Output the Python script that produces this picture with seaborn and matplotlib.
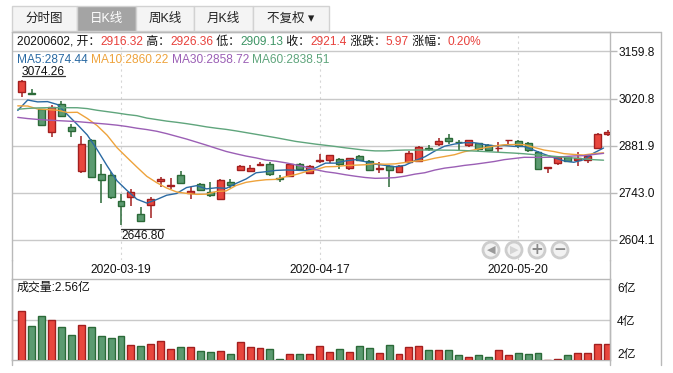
import numpy as np
import pandas as pd
import matplotlib
matplotlib.use("Agg")
import matplotlib.pyplot as plt
import seaborn as sns
from matplotlib.patches import Rectangle, Circle
from matplotlib.lines import Line2D
from matplotlib.transforms import IdentityTransform

# ---- data (SSE composite, daily) ----
dates = ["03-05", "03-06", "03-09", "03-10", "03-11", "03-12", "03-13", "03-16", "03-17", "03-18",
         "03-19", "03-20", "03-23", "03-24", "03-25", "03-26", "03-27", "03-30", "03-31", "04-01",
         "04-02", "04-03", "04-07", "04-08", "04-09", "04-10", "04-13", "04-14", "04-15", "04-16",
         "04-17", "04-20", "04-21", "04-22", "04-23", "04-24", "04-27", "04-28", "04-29", "04-30",
         "05-06", "05-07", "05-08", "05-11", "05-12", "05-13", "05-14", "05-15", "05-18", "05-19",
         "05-20", "05-21", "05-22", "05-25", "05-26", "05-27", "05-28", "05-29", "06-01", "06-02"]
dates = ["2020-" + d for d in dates]

opens = [3039.0, 3037.0, 2988.9, 2921.8, 3004.5, 2935.7, 2806.5, 2898.0, 2796.8, 2793.9,
         2718.8, 2728.8, 2678.6, 2705.2, 2776.1, 2762.0, 2793.8, 2741.5, 2767.2, 2744.5,
         2723.0, 2773.2, 2808.6, 2805.7, 2824.5, 2826.3, 2784.5, 2792.7, 2826.3, 2800.6,
         2837.0, 2840.0, 2843.0, 2814.5, 2850.9, 2836.1, 2813.4, 2821.3, 2802.7, 2833.1,
         2835.2, 2875.0, 2885.4, 2903.2, 2893.5, 2882.5, 2888.4, 2882.0, 2874.5, 2898.0,
         2896.0, 2890.0, 2863.6, 2816.3, 2829.3, 2847.0, 2840.1, 2838.0, 2873.6, 2916.32]
highs = [3074.26, 3050.0, 2990.0, 3002.5, 3012.5, 2945.4, 2910.0, 2900.0, 2826.0, 2804.5,
         2737.7, 2753.4, 2701.0, 2728.8, 2788.8, 2787.0, 2806.5, 2758.0, 2771.0, 2775.0,
         2782.0, 2782.0, 2824.0, 2825.0, 2834.0, 2833.0, 2795.0, 2828.0, 2830.0, 2823.0,
         2856.5, 2853.0, 2845.0, 2845.0, 2854.0, 2838.0, 2833.0, 2824.0, 2825.0, 2866.5,
         2879.5, 2883.5, 2903.0, 2915.9, 2898.0, 2899.0, 2890.0, 2886.0, 2891.0, 2899.5,
         2897.0, 2892.0, 2866.5, 2819.0, 2847.5, 2849.0, 2861.8, 2856.0, 2918.0, 2926.36]
lows = [3026.0, 3031.0, 2941.6, 2906.0, 2965.0, 2906.0, 2799.7, 2785.0, 2713.0, 2725.0,
        2646.80, 2703.0, 2655.0, 2666.8, 2758.4, 2752.5, 2770.0, 2723.8, 2748.0, 2731.0,
        2721.0, 2757.0, 2806.0, 2803.0, 2820.0, 2792.0, 2774.0, 2791.0, 2808.0, 2797.0,
        2829.0, 2831.0, 2812.0, 2808.6, 2836.0, 2806.0, 2801.5, 2758.4, 2800.0, 2831.0,
        2832.0, 2866.5, 2881.5, 2885.4, 2869.6, 2876.5, 2866.0, 2866.0, 2862.7, 2886.0,
        2875.5, 2864.0, 2808.6, 2800.5, 2824.3, 2832.0, 2820.4, 2829.3, 2871.0, 2909.13]
closes = [3071.68, 3034.51, 2943.29, 2996.76, 2968.52, 2923.49, 2887.43, 2789.25, 2779.64, 2728.76,
          2702.13, 2745.62, 2660.17, 2722.44, 2781.59, 2764.91, 2772.20, 2747.21, 2750.30, 2734.52,
          2780.64, 2763.99, 2820.76, 2815.37, 2825.90, 2796.63, 2783.05, 2827.28, 2811.17, 2819.94,
          2838.49, 2852.55, 2827.01, 2843.98, 2838.50, 2808.53, 2815.49, 2810.02, 2822.44, 2860.08,
          2878.14, 2871.52, 2895.34, 2894.80, 2891.56, 2898.05, 2870.34, 2868.46, 2875.42, 2898.58,
          2883.74, 2867.92, 2813.77, 2817.97, 2846.55, 2836.80, 2846.22, 2852.35, 2915.43, 2921.40]
# volume in 亿
volumes = [4.53, 3.62, 4.22, 3.98, 3.56, 3.07, 3.68, 3.56, 3.01, 2.89,
           3.01, 2.47, 2.41, 2.53, 2.71, 2.22, 2.35, 2.35, 2.10, 2.04,
           2.10, 1.92, 2.65, 2.35, 2.28, 2.22, 1.62, 1.92, 1.92, 1.92,
           2.41, 2.04, 2.22, 2.06, 2.41, 2.28, 1.98, 2.47, 1.92, 2.35,
           2.41, 2.16, 2.16, 2.16, 1.86, 1.74, 1.86, 1.74, 2.16, 1.86,
           1.98, 1.94, 1.98, 1.60, 1.62, 1.86, 1.98, 1.98, 2.55, 2.56]

ma5 = [2985.50, 3016.34, 3010.81, 3011.58, 3002.95, 2973.31, 2943.90, 2913.09, 2869.67, 2821.71,
       2777.44, 2749.08, 2723.26, 2711.82, 2722.39, 2734.95, 2740.26, 2757.67, 2763.24, 2753.83,
       2756.97, 2755.33, 2770.04, 2783.06, 2801.33, 2804.53, 2808.34, 2809.65, 2808.81, 2807.61,
       2815.99, 2829.89, 2829.83, 2836.39, 2840.11, 2834.11, 2826.70, 2823.30, 2819.00, 2823.31,
       2837.23, 2848.44, 2865.50, 2879.98, 2886.27, 2890.25, 2890.02, 2884.64, 2880.77, 2882.17,
       2879.31, 2878.82, 2867.89, 2856.40, 2845.99, 2836.60, 2832.26, 2839.98, 2859.47, 2874.44]
ma10 = [2999.07, 2998.55, 2989.76, 2988.13, 2986.19, 2979.41, 2980.12, 2961.95, 2940.62, 2912.33,
        2875.38, 2846.49, 2818.18, 2790.75, 2772.05, 2756.19, 2744.67, 2740.47, 2737.53, 2738.11,
        2745.96, 2747.80, 2763.86, 2773.15, 2777.58, 2780.75, 2781.84, 2789.84, 2795.93, 2804.47,
        2810.26, 2819.11, 2819.74, 2822.60, 2823.86, 2825.05, 2828.29, 2826.57, 2827.70, 2831.71,
        2835.67, 2837.57, 2844.40, 2849.49, 2854.79, 2863.74, 2869.23, 2875.07, 2880.37, 2884.22,
        2884.78, 2884.42, 2876.26, 2868.58, 2864.08, 2857.96, 2855.54, 2853.93, 2857.93, 2860.22]
ma30 = [2965.0, 2961.5, 2959.0, 2957.0, 2955.5, 2954.0, 2952.5, 2950.0, 2947.5, 2945.0,
        2942.0, 2938.0, 2933.0, 2929.0, 2924.0, 2917.0, 2909.0, 2901.0, 2892.0, 2883.0,
        2873.47, 2864.28, 2857.26, 2850.67, 2845.27, 2838.78, 2835.54, 2830.75, 2824.70, 2818.31,
        2810.53, 2804.47, 2800.59, 2795.50, 2791.16, 2787.33, 2784.93, 2785.63, 2787.05, 2791.43,
        2797.30, 2801.49, 2809.33, 2815.08, 2818.74, 2823.18, 2826.45, 2830.50, 2834.67, 2840.13,
        2843.57, 2847.04, 2846.80, 2846.89, 2847.58, 2848.92, 2851.02, 2851.86, 2855.33, 2858.72]
ma60 = [2989.0, 2991.5, 2993.0, 2993.6, 2993.6, 2993.6, 2993.5, 2991.0, 2986.0, 2982.0,
        2978.0, 2973.5, 2970.0, 2963.0, 2958.5, 2954.0, 2950.5, 2946.5, 2942.0, 2937.0,
        2933.0, 2929.5, 2925.0, 2920.0, 2915.0, 2910.0, 2905.0, 2899.5, 2894.0, 2890.0,
        2886.0, 2882.5, 2879.0, 2875.0, 2871.5, 2868.0, 2866.0, 2866.0, 2867.5, 2868.5,
        2868.6, 2868.6, 2868.5, 2868.2, 2868.0, 2867.0, 2865.5, 2864.0, 2862.5, 2861.0,
        2859.5, 2857.5, 2855.0, 2852.5, 2850.0, 2847.5, 2845.0, 2842.5, 2840.0, 2838.51]

price_ticks = [3159.8, 3020.8, 2881.9, 2743.0, 2604.1]
vol_ticks = [2, 4, 6]
date_ticks = ["2020-03-19", "2020-04-17", "2020-05-20"]
tabs = ["分时图", "日K线", "周K线", "月K线", "不复权 ▾"]

df = pd.DataFrame({"date": dates, "open": opens, "high": highs, "low": lows,
                   "close": closes, "vol": volumes,
                   "MA5": ma5, "MA10": ma10, "MA30": ma30, "MA60": ma60})
df["x"] = np.arange(len(df))
df["up"] = df["close"] >= df["open"]

# ---- style ----
RED, RED_EDGE = "#e8463d", "#a21f1f"
GREEN, GREEN_EDGE = "#5b9a70", "#2b6a38"
TXT_RED, TXT_GREEN = "#e8413c", "#3f9566"
MA_COLORS = {"MA5": "#2a6aa3", "MA10": "#eea33c", "MA30": "#9b5fb5", "MA60": "#5fa57c"}
GRID = "#c9c9c9"
FRAME = "#b9b9b9"

sns.set_theme(style="white")
plt.rcParams["font.family"] = ["Liberation Sans", "Noto Sans CJK SC", "DejaVu Sans"]
FS = 8.6

W, H = 673, 373
fig = plt.figure(figsize=(W / 100, H / 100), dpi=100)
fig.patch.set_facecolor("white")


def fx(px):
    return px / W


def fy(py):
    return 1 - py / H


ax = fig.add_axes([fx(12), fy(260), 598 / W, 228 / H])
axv = fig.add_axes([fx(12), fy(360), 598 / W, 80.7 / H])
xlim = (-0.98, 59.25)

# ---- price panel ----
for _, r in df.iterrows():
    face, edge = (RED, RED_EDGE) if r["up"] else (GREEN, GREEN_EDGE)
    ax.vlines(r["x"], r["low"], r["high"], color=edge, lw=1.1, zorder=3)
    lo, hi = min(r["open"], r["close"]), max(r["open"], r["close"])
    ax.bar(r["x"], max(hi - lo, 0.6), bottom=lo, width=0.7, color=face,
           edgecolor=edge, lw=1.0, zorder=4)

for name, col in MA_COLORS.items():
    sns.lineplot(x=df["x"] - 0.4, y=df[name], ax=ax, color=col, lw=1.0,
                 legend=False, zorder=5)

ax.set_xlim(*xlim)
ax.set_ylim(2543.6, 3217.3)
ax.set_xlabel("")
ax.set_ylabel("")
ax.yaxis.tick_right()
ax.set_yticks(price_ticks)
ax.set_yticklabels([f"{v:.1f}" for v in price_ticks])
ax.tick_params(axis="y", right=True, length=5, width=1, color=FRAME, pad=1,
               labelsize=FS, labelcolor="#111111")
pos = [dates.index(d) for d in date_ticks]
ax.set_xticks(pos)
ax.set_xticklabels(date_ticks)
ax.tick_params(axis="x", bottom=True, length=0, pad=3, labelsize=FS, labelcolor="#111111")
ax.grid(axis="y", color=GRID, lw=1)
ax.grid(axis="x", color="#d6d6d6", lw=0.8, linestyle=(0, (2, 3)))
for s in ["left", "top", "right"]:
    ax.spines[s].set_color(FRAME)
    ax.spines[s].set_linewidth(1)
ax.spines["bottom"].set_visible(False)

# extremes labels
hi_i = int(np.argmax(highs))
lo_i = int(np.argmin(lows))
renderer = fig.canvas.get_renderer()
t_hi = ax.annotate(f"{highs[hi_i]:.2f}", xy=(hi_i, highs[hi_i]), xytext=(0, 5.5),
                   textcoords="offset pixels", ha="left", va="baseline", fontsize=FS,
                   color="#111111")
t_lo = ax.annotate(f"{lows[lo_i]:.2f}", xy=(lo_i, lows[lo_i]), xytext=(0, -5),
                   textcoords="offset pixels", ha="left", va="top", fontsize=FS,
                   color="#111111")
to_data = ax.transData.inverted()
for t, idx, val, off in [(t_hi, hi_i, highs[hi_i], 4), (t_lo, lo_i, lows[lo_i], -3.5)]:
    bb = t.get_window_extent(renderer)
    x_end = to_data.transform((bb.x1, 0))[0]
    y_line = to_data.transform((0, ax.transData.transform((0, val))[1] + off))[1]
    ax.plot([idx, x_end], [y_line, y_line], color="#333333", lw=0.9, zorder=6)

# ---- volume panel ----
axv.bar(df["x"], df["vol"], width=0.7,
        color=np.where(df["up"], RED, GREEN),
        edgecolor=np.where(df["up"], RED_EDGE, GREEN_EDGE), lw=1.0, zorder=3)
axv.set_xlim(*xlim)
axv.set_ylim(1.576, 6.467)
axv.axhline(4, color=GRID, lw=1, zorder=1)
axv.yaxis.tick_right()
axv.set_yticks(vol_ticks)
axv.set_yticklabels([f"{v}亿" for v in vol_ticks])
axv.tick_params(axis="y", right=True, length=0, pad=5, labelsize=FS, labelcolor="#111111")
axv.set_xticks([])
for s in axv.spines.values():
    s.set_color(FRAME)
    s.set_linewidth(1)
axv.text(0.008, 0.9, f"成交量:{volumes[-1]:.2f}亿", transform=axv.transAxes,
         ha="left", va="center", fontsize=FS, color="#111111")

# ---- outer frame ----
fig.add_artist(Line2D([fx(12), fx(661)], [fy(32), fy(32)], color=FRAME, lw=1))
fig.add_artist(Line2D([fx(661), fx(661)], [fy(32), fy(365)], color=FRAME, lw=1))
fig.add_artist(Line2D([fx(12), fx(12)], [fy(260), fy(365)], color=FRAME, lw=1))
fig.add_artist(Line2D([fx(610), fx(610)], [fy(260), fy(365)], color=FRAME, lw=1))


def text_runs(x_px, y_px, runs, size=FS):
    x = x_px
    for s, c in runs:
        t = fig.text(fx(x), fy(y_px), s, color=c, fontsize=size, ha="left", va="center")
        x += t.get_window_extent(renderer).width


# info line
last, prev = df.iloc[-1], df.iloc[-2]
chg = last["close"] - prev["close"]
pct = chg / prev["close"] * 100
text_runs(17, 42, [
    (last["date"].replace("-", "") + ", 开：", "#111111"), (f"{last['open']:.2f}", TXT_RED),
    (" 高：", "#111111"), (f"{last['high']:.2f}", TXT_RED),
    (" 低：", "#111111"), (f"{last['low']:.2f}", TXT_GREEN),
    (" 收：", "#111111"), (f"{last['close']:g}", TXT_RED),
    (" 涨跌：", "#111111"), (f"{chg:.2f}", TXT_RED),
    (" 涨幅：", "#111111"), (f"{pct:.2f}%", TXT_RED),
])
# MA legend
text_runs(17, 60, [(f"{k}:{df[k].iloc[-1]:.2f} ", c) for k, c in MA_COLORS.items()])

# ---- tabs ----
edges = [12, 77, 136, 194, 253, 329]
for i, name in enumerate(tabs):
    active = i == 1
    fig.add_artist(Rectangle((fx(edges[i]), fy(31)), (edges[i + 1] - edges[i]) / W, 25 / H,
                             facecolor="#a4a4a4" if active else "#f4f4f4",
                             edgecolor="#d2d2d2", lw=1))
    fig.text(fx((edges[i] + edges[i + 1]) / 2), fy(19), name, ha="center", va="center",
             fontsize=9, color="white" if active else "#222222")

# ---- navigation buttons ----
for cx, sym, col in [(491, "◀", "#9a9a9a"), (514, "▶", "#d4d4d4"),
                     (537, "+", "#8a8a8a"), (560, "−", "#8a8a8a")]:
    fig.add_artist(Circle((cx, H - 250), 8, transform=IdentityTransform(),
                          facecolor="#f2f2f2", edgecolor="#cdcdcd", lw=2))
    fig.text(fx(cx), fy(250), sym, ha="center", va="center", fontsize=8 if sym in "◀▶" else 11,
             color=col, family="DejaVu Sans", fontweight="bold")

fig.savefig("out.png", dpi=100)
